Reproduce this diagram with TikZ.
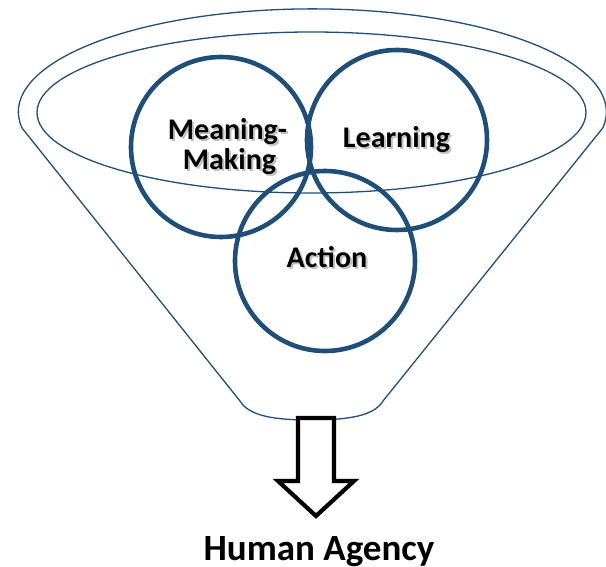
\documentclass[tikz,border=0pt]{standalone}
\usepackage{fontspec}
\setmainfont{Carlito}
\usetikzlibrary{positioning}
\definecolor{funnelblue}{RGB}{31,78,121}

\begin{document}
\begin{tikzpicture}[x=1pt,y=-1pt,
  ring/.style={draw=funnelblue,line width=4.6pt,circle,minimum size=180pt,inner sep=0pt},
  word/.style={anchor=base,inner sep=0pt,font=\bfseries\fontsize{30}{30}\selectfont},
  shade/.style={word,text=black!40,opacity=0.6}]
\useasboundingbox (0,0) rectangle (606,567);
% funnel
  \draw[funnelblue,line width=1.3pt,line join=round] (22,128) arc[start angle=189,end angle=-9,x radius=294pt,y radius=103pt]
   -- (383,401) .. controls (374,416) and (348,420) .. (311,420) .. controls (274,420) and (249,416) .. (240,401) -- cycle;
  \draw[funnelblue,line width=1.3pt] (311.5,112.5) ellipse [x radius=274.5pt,y radius=80.5pt];
% circles
  \node[ring] (meaning) at (221,147) {};
  \node[ring] (learning) at (397,140) {};
  \node[ring] (action) at (325,261) {};
% labels
  \node[shade] at (229.5,142) {Meaning-};
  \node[shade] at (231.5,172) {Making};
  \node[shade] at (398.5,150) {Learning};
  \node[shade] at (329,270) {Action};
  \node[word] (meaningtxt) at (227.5,140) {Meaning-};
  \node[word] (makingtxt) at (229.5,170) {Making};
  \node[word] (learningtxt) at (396.5,148) {Learning};
  \node[word] (actiontxt) at (327,268) {Action};
% arrow
  \draw[line width=4.2pt,fill=white,line join=miter] (298,418) -- (334,418) -- (334,481) -- (354,481) -- (316,516) -- (278,481) -- (298,481) -- cycle;
  \node[anchor=base,inner sep=0pt,font=\bfseries\fontsize{37}{37}\selectfont] (agency) at (319,560) {Human Agency};
\end{tikzpicture}
\end{document}
